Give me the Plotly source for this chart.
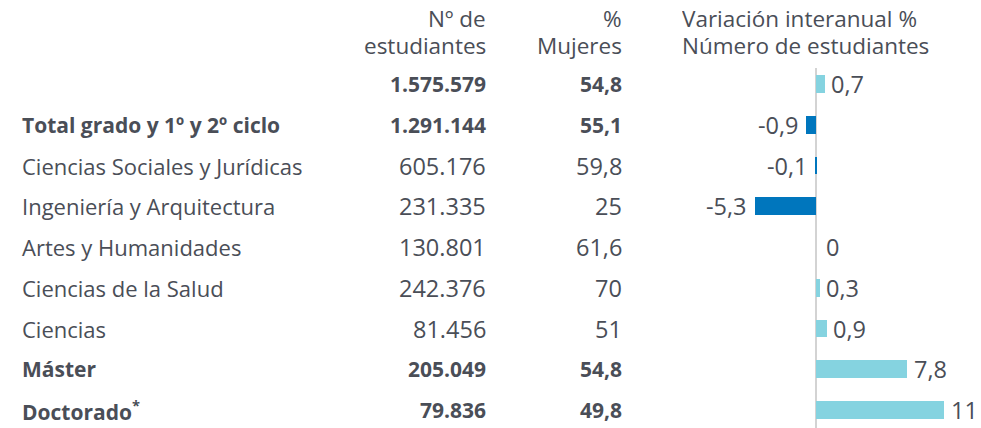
import plotly.graph_objects as go

categories = ["", "Total grado y 1º y 2º ciclo", "Ciencias Sociales y Jurídicas",
              "Ingeniería y Arquitectura", "Artes y Humanidades", "Ciencias de la Salud",
              "Ciencias", "Máster", "Doctorado<sup>*</sup>"]
bold_rows = [True, True, False, False, False, False, False, True, True]
estudiantes = [1575579, 1291144, 605176, 231335, 130801, 242376, 81456, 205049, 79836]
mujeres = [54.8, 55.1, 59.8, 25, 61.6, 70, 51, 54.8, 49.8]
variacion = [0.7, -0.9, -0.1, -5.3, 0, 0.3, 0.9, 7.8, 11]

header_est = ["Nº de", "estudiantes"]
header_muj = ["%", "Mujeres"]
header_var = ["Variación interanual %", "Número de estudiantes"]

W, H = 981, 428
TXT = "#4a4e57"
FONT = "Open Sans"
FS_LABEL = 22
FS_NUM = 23.5
FS_BOLD = 21
FS_HEAD = 22.5

def fmt_int(n):
    return f"{n:,}".replace(",", ".")

def fmt_dec(v):
    if float(v).is_integer():
        return str(int(v))
    return f"{v:.1f}".replace(".", ",")

rows = list(range(len(categories)))
pos_col = "#85d3e0"
neg_col = "#0076bd"
colors = [neg_col if v < 0 else pos_col for v in variacion]

fig = go.Figure()
fig.add_trace(go.Bar(
    x=variacion, y=rows, orientation="h", width=0.44,
    marker=dict(color=colors, line=dict(width=0)),
    hoverinfo="skip",
))

def px2x(p):
    return p / W

def b(s, on):
    return f"<b>{s}</b>" if on else s

for r in rows:
    fsl = FS_BOLD if bold_rows[r] else FS_LABEL
    fsn = FS_BOLD if bold_rows[r] else FS_NUM
    if categories[r]:
        fig.add_annotation(x=px2x(20), y=r, xref="paper", yref="y", xanchor="left", yanchor="middle",
                           text=b(categories[r], bold_rows[r]), showarrow=False,
                           font=dict(family=FONT, size=fsl, color=TXT))
    fig.add_annotation(x=px2x(488), y=r, xref="paper", yref="y", xanchor="right", yanchor="middle",
                       text=b(fmt_int(estudiantes[r]), bold_rows[r]), showarrow=False,
                       font=dict(family=FONT, size=fsn, color=TXT))
    fig.add_annotation(x=px2x(624), y=r, xref="paper", yref="y", xanchor="right", yanchor="middle",
                       text=b(fmt_dec(mujeres[r]), bold_rows[r]), showarrow=False,
                       font=dict(family=FONT, size=fsn, color=TXT))
    v = variacion[r]
    fig.add_annotation(x=v, y=r, xref="x", yref="y",
                       xanchor="right" if v < 0 else "left", yanchor="middle",
                       xshift=-5 if v < 0 else (8 if v == 0 else 5),
                       text=fmt_dec(v), showarrow=False,
                       font=dict(family=FONT, size=FS_NUM, color=TXT))

# header lines: (center px, box height px)
for i, (ypx, hpx) in enumerate([(18.5, 25), (45, 28)]):
    yy = 1 - ypx / H
    for xp, anchor, txt in [(488, "right", header_est[i]), (624, "right", header_muj[i]),
                            (680, "left", header_var[i])]:
        fig.add_annotation(x=px2x(xp), y=yy, xref="paper", yref="paper", xanchor=anchor,
                           yanchor="middle", height=hpx, valign="middle",
                           text=txt, showarrow=False,
                           font=dict(family=FONT, size=FS_HEAD, color=TXT))

# zero line
fig.add_shape(type="line", xref="x", yref="paper", x0=0, x1=0, y0=0, y1=1 - 68 / H,
              line=dict(color="#d3d3d3", width=2), layer="below")

zero_px, px_per_unit = 816, 11.636
dom0 = 588.6 / W
x_lo = -(816 - 588.6) / px_per_unit
x_hi = (W - zero_px) / px_per_unit

step = 40.75
rmin = -84 / step
rmax = rmin + H / step

fig.update_layout(
    width=W, height=H, margin=dict(l=0, r=0, t=0, b=0),
    paper_bgcolor="white", plot_bgcolor="white", showlegend=False,
    xaxis=dict(domain=[dom0, 1], range=[x_lo, x_hi], visible=False, fixedrange=True),
    yaxis=dict(domain=[0, 1], range=[rmax, rmin], visible=False, fixedrange=True),
    bargap=0,
)

fig.write_html("out.html", config={"displayModeBar": False},
               post_script="document.body.style.margin='0';document.body.style.overflow='hidden';")
